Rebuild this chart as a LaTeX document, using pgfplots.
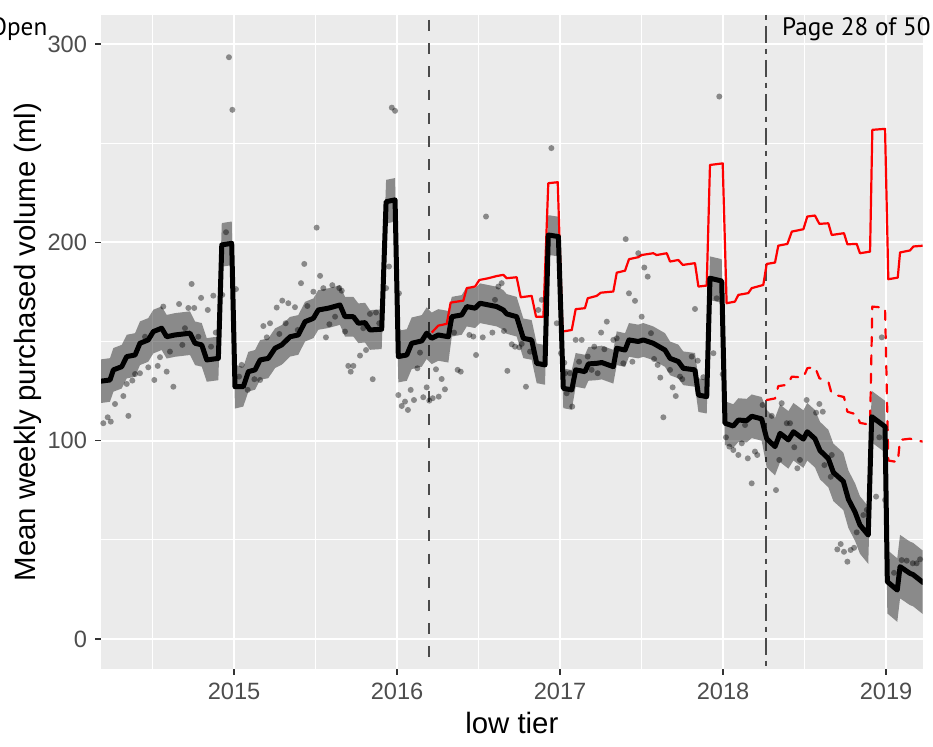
\documentclass[border=0pt]{standalone}
\usepackage{pgfplots}
\pgfplotsset{compat=1.18}
\usepackage{pgfplotstable}
\usepackage{fontspec}
\setmainfont{Liberation Sans}
\newfontfamily\notefont{PT Sans}

\definecolor{panelgrey}{HTML}{EBEBEB}
\definecolor{labelgrey}{HTML}{4D4D4D}
\definecolor{tickgrey}{HTML}{333333}
\definecolor{refline}{HTML}{4A4A4A}

% fitted monthly mean with its interval band
\pgfplotstableread{
x v lo hi
2014.184 130.0 119.0 141.0
2014.239 130.6 119.6 141.6
2014.260 135.7 124.7 146.7
2014.311 137.3 126.3 148.3
2014.342 142.4 131.4 153.4
2014.393 143.2 132.2 154.2
2014.423 149.1 138.1 160.1
2014.474 150.8 139.8 161.8
2014.505 155.0 144.0 166.0
2014.556 156.7 145.7 167.7
2014.587 152.4 141.4 163.4
2014.638 153.3 142.3 164.3
2014.730 154.2 143.2 165.2
2014.761 149.1 138.1 160.1
2014.802 148.3 137.3 159.3
2014.833 140.7 129.7 151.7
2014.904 141.5 130.5 152.5
2014.925 198.7 187.7 209.7
2014.986 199.5 188.5 210.5
2015.006 127.2 116.2 138.2
2015.057 127.2 117.2 137.2
2015.088 134.8 124.8 144.8
2015.129 135.7 125.7 145.7
2015.160 140.7 130.7 150.7
2015.210 141.5 131.5 151.5
2015.252 146.6 136.6 156.6
2015.293 148.3 138.3 158.3
2015.344 152.4 142.4 162.4
2015.394 153.3 143.3 163.3
2015.436 160.0 150.0 170.0
2015.487 161.7 151.7 171.7
2015.517 165.9 155.9 175.9
2015.579 166.8 156.8 176.8
2015.650 168.4 158.4 178.4
2015.681 162.5 152.5 172.5
2015.732 162.5 152.5 172.5
2015.763 159.2 149.2 169.2
2015.804 159.5 149.5 169.5
2015.834 155.8 145.8 165.8
2015.906 156.2 146.2 166.2
2015.933 220.5 209.5 231.5
2015.988 221.4 210.4 232.4
2016.008 142.4 129.4 155.4
2016.060 143.2 130.2 156.2
2016.090 149.1 136.1 162.1
2016.152 150.3 137.3 163.3
2016.182 154.2 141.2 167.2
2016.213 151.6 138.6 164.6
2016.253 153.3 140.3 166.3
2016.315 152.4 139.4 165.4
2016.336 162.5 152.5 172.5
2016.397 163.4 153.4 173.4
2016.428 167.6 157.6 177.6
2016.479 166.8 156.8 176.8
2016.509 169.3 159.3 179.3
2016.612 167.6 157.6 177.6
2016.652 165.9 155.9 175.9
2016.673 163.9 153.9 173.9
2016.734 162.5 152.5 172.5
2016.775 151.6 141.6 161.6
2016.826 150.8 140.8 160.8
2016.857 139.0 129.0 149.0
2016.908 138.2 128.2 148.2
2016.928 203.7 193.7 213.7
2016.990 202.9 192.9 212.9
2017.020 126.4 116.4 136.4
2017.072 125.6 115.6 135.6
2017.096 135.7 127.2 144.2
2017.153 134.8 126.3 143.3
2017.174 138.7 130.2 147.2
2017.225 139.0 130.5 147.5
2017.256 139.4 130.9 147.9
2017.327 137.3 128.8 145.8
2017.348 146.6 138.1 155.1
2017.399 145.7 137.2 154.2
2017.423 150.8 142.3 159.3
2017.480 150.0 141.5 158.5
2017.511 150.8 142.3 159.3
2017.572 149.1 140.6 157.6
2017.644 145.7 137.2 154.2
2017.675 141.5 133.0 150.0
2017.726 139.9 131.4 148.4
2017.756 136.5 128.0 145.0
2017.828 135.7 127.2 144.2
2017.849 123.0 114.5 131.5
2017.900 122.2 113.7 130.7
2017.920 181.9 170.9 192.9
2017.992 180.5 169.5 191.5
2018.012 108.8 97.8 119.8
2018.063 107.4 96.4 118.4
2018.094 110.4 99.4 121.4
2018.145 110.1 99.1 121.1
2018.176 112.3 101.3 123.3
2018.237 111.0 100.0 122.0
2018.268 101.0 86.5 115.5
2018.319 97.0 82.5 111.5
2018.350 103.7 89.2 118.2
2018.401 100.4 85.9 114.9
2018.432 104.5 90.0 119.0
2018.493 100.8 86.3 115.3
2018.517 104.5 90.0 119.0
2018.564 101.0 86.5 115.5
2018.595 95.0 80.5 109.5
2018.646 91.0 76.5 105.5
2018.677 84.0 69.5 98.5
2018.738 79.5 65.0 94.0
2018.769 70.5 56.0 85.0
2018.810 64.0 49.5 78.5
2018.840 57.5 43.0 72.0
2018.891 52.4 37.9 66.9
2018.912 112.1 99.1 125.1
2018.994 107.1 94.1 120.1
2019.008 28.9 12.9 44.9
2019.069 24.7 8.7 40.7
2019.086 36.5 20.5 52.5
2019.147 33.1 17.1 49.1
2019.166 32.5 16.5 48.5
2019.227 28.5 12.5 44.5
}\fitted

% observed weekly means
\pgfplotstableread{
x v
2014.198 108.8
2014.225 111.8
2014.244 109.6
2014.270 118.5
2014.321 122.5
2014.342 128.6
2014.352 112.5
2014.376 130.3
2014.393 133.6
2014.423 134.0
2014.454 152.4
2014.474 137.0
2014.511 130.6
2014.532 137.7
2014.546 142.1
2014.566 167.6
2014.587 134.8
2014.607 144.9
2014.628 127.2
2014.663 168.9
2014.683 148.3
2014.699 156.7
2014.720 166.9
2014.740 179.0
2014.756 166.9
2014.781 152.4
2014.798 172.0
2014.839 165.9
2014.859 147.4
2014.873 173.1
2014.888 154.5
2014.928 173.5
2014.951 205.1
2014.969 293.3
2014.990 266.8
2015.012 176.4
2015.031 132.3
2015.047 138.2
2015.084 125.6
2015.125 131.0
2015.160 130.6
2015.180 157.8
2015.201 152.1
2015.221 159.2
2015.262 167.1
2015.278 153.8
2015.296 170.6
2015.317 159.2
2015.333 169.3
2015.374 167.3
2015.391 155.8
2015.411 179.4
2015.431 189.1
2015.450 167.9
2015.487 175.1
2015.507 207.4
2015.528 183.1
2015.548 176.9
2015.564 152.1
2015.585 158.7
2015.603 178.4
2015.620 162.5
2015.646 176.9
2015.661 175.6
2015.681 155.0
2015.701 137.7
2015.716 134.8
2015.732 137.7
2015.773 142.9
2015.793 156.7
2015.810 145.7
2015.834 163.9
2015.851 131.0
2015.871 164.6
2015.891 159.2
2015.933 176.9
2015.951 187.8
2015.968 267.9
2015.988 266.3
2016.012 174.3
2016.008 123.0
2016.029 117.5
2016.049 119.7
2016.067 115.5
2016.084 125.6
2016.104 120.5
2016.125 136.5
2016.141 144.4
2016.161 121.9
2016.182 126.9
2016.198 120.2
2016.219 121.4
2016.239 136.0
2016.256 122.2
2016.274 131.1
2016.294 125.9
2016.350 154.5
2016.372 135.7
2016.391 134.8
2016.444 153.3
2016.468 152.5
2016.485 143.2
2016.526 152.1
2016.546 213.0
2016.585 154.5
2016.601 171.0
2016.622 177.7
2016.642 179.4
2016.656 155.3
2016.677 135.2
2016.704 148.6
2016.724 147.4
2016.750 147.1
2016.765 148.8
2016.791 127.2
2016.816 144.9
2016.867 165.9
2016.888 171.0
2016.947 247.5
2016.980 159.2
2017.006 144.1
2017.026 139.3
2017.031 134.0
2017.041 123.9
2017.061 134.0
2017.075 117.2
2017.096 150.8
2017.117 139.8
2017.133 150.8
2017.170 142.4
2017.194 135.7
2017.210 147.4
2017.231 134.0
2017.252 154.5
2017.272 146.1
2017.287 160.0
2017.327 150.8
2017.348 151.6
2017.388 139.0
2017.403 201.6
2017.423 174.3
2017.444 139.8
2017.460 170.5
2017.480 194.5
2017.501 162.5
2017.517 187.3
2017.538 182.7
2017.558 154.2
2017.577 141.2
2017.599 138.2
2017.615 131.8
2017.634 111.8
2017.675 135.7
2017.691 126.9
2017.710 122.5
2017.736 132.3
2017.750 131.0
2017.808 142.4
2017.828 166.4
2017.845 140.3
2017.879 132.0
2017.941 144.1
2017.961 171.8
2017.977 273.5
2017.998 133.5
2018.018 101.7
2018.039 97.0
2018.063 95.3
2018.094 92.8
2018.115 98.7
2018.135 107.9
2018.152 91.1
2018.176 78.5
2018.196 94.5
2018.210 92.8
2018.243 118.0
2018.299 112.5
2018.325 75.1
2018.345 90.3
2018.360 118.9
2018.391 108.8
2018.411 108.8
2018.437 96.7
2018.456 86.1
2018.472 90.3
2018.513 120.5
2018.571 114.1
2018.591 118.5
2018.612 114.6
2018.622 87.7
2018.661 81.8
2018.667 92.8
2018.701 45.2
2018.722 47.9
2018.742 44.0
2018.763 39.0
2018.783 44.9
2018.804 46.0
2018.820 53.8
2018.861 62.5
2018.882 65.1
2018.939 71.8
2018.959 101.7
2018.974 152.1
2018.994 70.1
2019.049 33.4
2019.096 39.8
2019.127 39.5
2019.164 38.2
2019.188 38.2
2019.209 40.2
}\weekly

% counterfactual from the first change point
\pgfplotstableread{
x v
2016.213 154.5
2016.253 158.0
2016.305 158.9
2016.329 169.6
2016.407 170.6
2016.428 176.9
2016.479 177.7
2016.505 181.0
2016.560 181.9
2016.612 183.0
2016.652 183.6
2016.673 181.9
2016.734 182.4
2016.759 172.3
2016.826 173.0
2016.853 162.5
2016.898 162.5
2016.928 229.8
2016.986 230.3
2017.015 155.0
2017.072 155.8
2017.096 166.3
2017.153 166.8
2017.170 171.8
2017.225 173.0
2017.250 174.6
2017.327 175.2
2017.348 184.7
2017.399 185.7
2017.423 191.5
2017.480 192.5
2017.501 193.6
2017.572 194.5
2017.593 193.6
2017.655 194.5
2017.675 190.3
2017.726 191.1
2017.753 188.6
2017.828 189.5
2017.849 177.7
2017.900 178.2
2017.920 239.0
2017.998 239.8
2018.022 169.3
2018.073 170.1
2018.094 173.5
2018.155 174.4
2018.176 176.9
2018.247 178.5
2018.268 189.1
2018.319 189.8
2018.339 198.3
2018.395 199.2
2018.422 205.4
2018.493 206.6
2018.517 213.0
2018.564 213.5
2018.591 209.3
2018.646 209.6
2018.667 203.7
2018.742 204.6
2018.763 199.0
2018.820 199.2
2018.840 194.5
2018.902 195.3
2018.916 256.7
2018.994 257.2
2019.014 181.4
2019.072 182.2
2019.086 194.9
2019.147 195.9
2019.168 197.9
2019.227 198.3
}\cfone

% counterfactual from the second change point
\pgfplotstableread{
x v
2018.268 120.5
2018.319 121.3
2018.339 127.5
2018.395 128.2
2018.422 132.3
2018.493 131.8
2018.517 136.5
2018.564 137.2
2018.591 131.5
2018.646 129.8
2018.667 123.5
2018.742 122.0
2018.763 114.6
2018.820 113.2
2018.840 109.0
2018.902 108.0
2018.916 167.6
2018.994 167.0
2019.014 90.0
2019.072 89.2
2019.086 100.4
2019.147 101.0
2019.168 100.5
2019.227 99.5
}\cftwo

\begin{document}
\begin{tikzpicture}
\useasboundingbox (0,0) rectangle (466.5bp,373.5bp);
\begin{axis}[
  at={(50.5bp,39bp)}, anchor=south west,
  scale only axis, width=410.85bp, height=327bp,
  xmin=2014.184, xmax=2019.225, ymin=-15.1, ymax=314.6,
  axis background/.style={fill=panelgrey},
  axis line style={draw=none},
  xtick pos=left, ytick pos=left,
  tick align=outside,
  major tick length=3bp, minor tick length=0pt,
  tick style={tickgrey, line width=0.6bp},
  xtick={2015,2016,2017,2018,2019},
  xticklabels={2015,2016,2017,2018,2019},
  minor xtick={2014.5,2015.5,2016.5,2017.5,2018.5},
  ytick={0,100,200,300},
  yticklabels={0,100,200,300},
  minor ytick={50,150,250},
  grid=both,
  major grid style={white, line width=0.9bp},
  minor grid style={white, line width=0.45bp},
  ticklabel style={font=\fontsize{11.8bp}{14bp}\selectfont, text=labelgrey},
  xticklabel style={anchor=north, inner sep=0pt, yshift=-3.85bp},
  yticklabel style={anchor=east, inner sep=0pt, xshift=-3.85bp},
  xlabel={low tier},
  ylabel={Mean weekly purchased volume (ml)},
  label style={font=\fontsize{14.7bp}{17bp}\selectfont},
  xlabel style={at={(axis description cs:0.5,-0.0983)}, anchor=base},
  ylabel style={at={(axis description cs:-0.0803,0.5)}, anchor=base},
]
% change points, drawn from the top down
\addplot[refline, line width=1bp, dash pattern=on 5.4bp off 6.2bp, dash phase=9.1bp]
  coordinates {(2016.198,314.6) (2016.198,-15.1)};
\addplot[refline, line width=1bp, dash pattern=on 8.3bp off 3bp on 2.7bp off 3bp,
  dash phase=11.5bp]
  coordinates {(2018.264,314.6) (2018.264,-15.1)};
% interval band: lower edge, then the band width stacked on it
\addplot[draw=none, stack plots=y] table[x=x, y=lo] {\fitted};
\addplot[fill=black, fill opacity=0.41, draw=none, stack plots=y]
  table[x=x, y expr=\thisrow{hi}-\thisrow{lo}] {\fitted} \closedcycle;
% observations
\addplot[only marks, mark=*, mark size=1.5bp,
  mark options={draw opacity=0, fill=black, fill opacity=0.42}]
  table[x=x, y=v] {\weekly};
% counterfactuals
\addplot[red, line width=1.1bp, line join=round] table[x=x, y=v] {\cfone};
\addplot[red, line width=1.1bp, line join=round, line cap=round,
  dash pattern=on 4.6bp off 4.6bp] table[x=x, y=v] {\cftwo};
% fitted mean
\addplot[black, line width=2.5bp, line join=round, line cap=round]
  table[x=x, y=v] {\fitted};
\end{axis}
\node[anchor=base east, inner sep=0pt, font=\notefont\fontsize{12.6bp}{14bp}\selectfont]
  at (23.85bp,355.75bp) {Open};
\node[anchor=base west, inner sep=0pt, font=\notefont\fontsize{12.6bp}{14bp}\selectfont]
  at (390.85bp,355.75bp) {Page 28 of 50};
\end{tikzpicture}
\end{document}
